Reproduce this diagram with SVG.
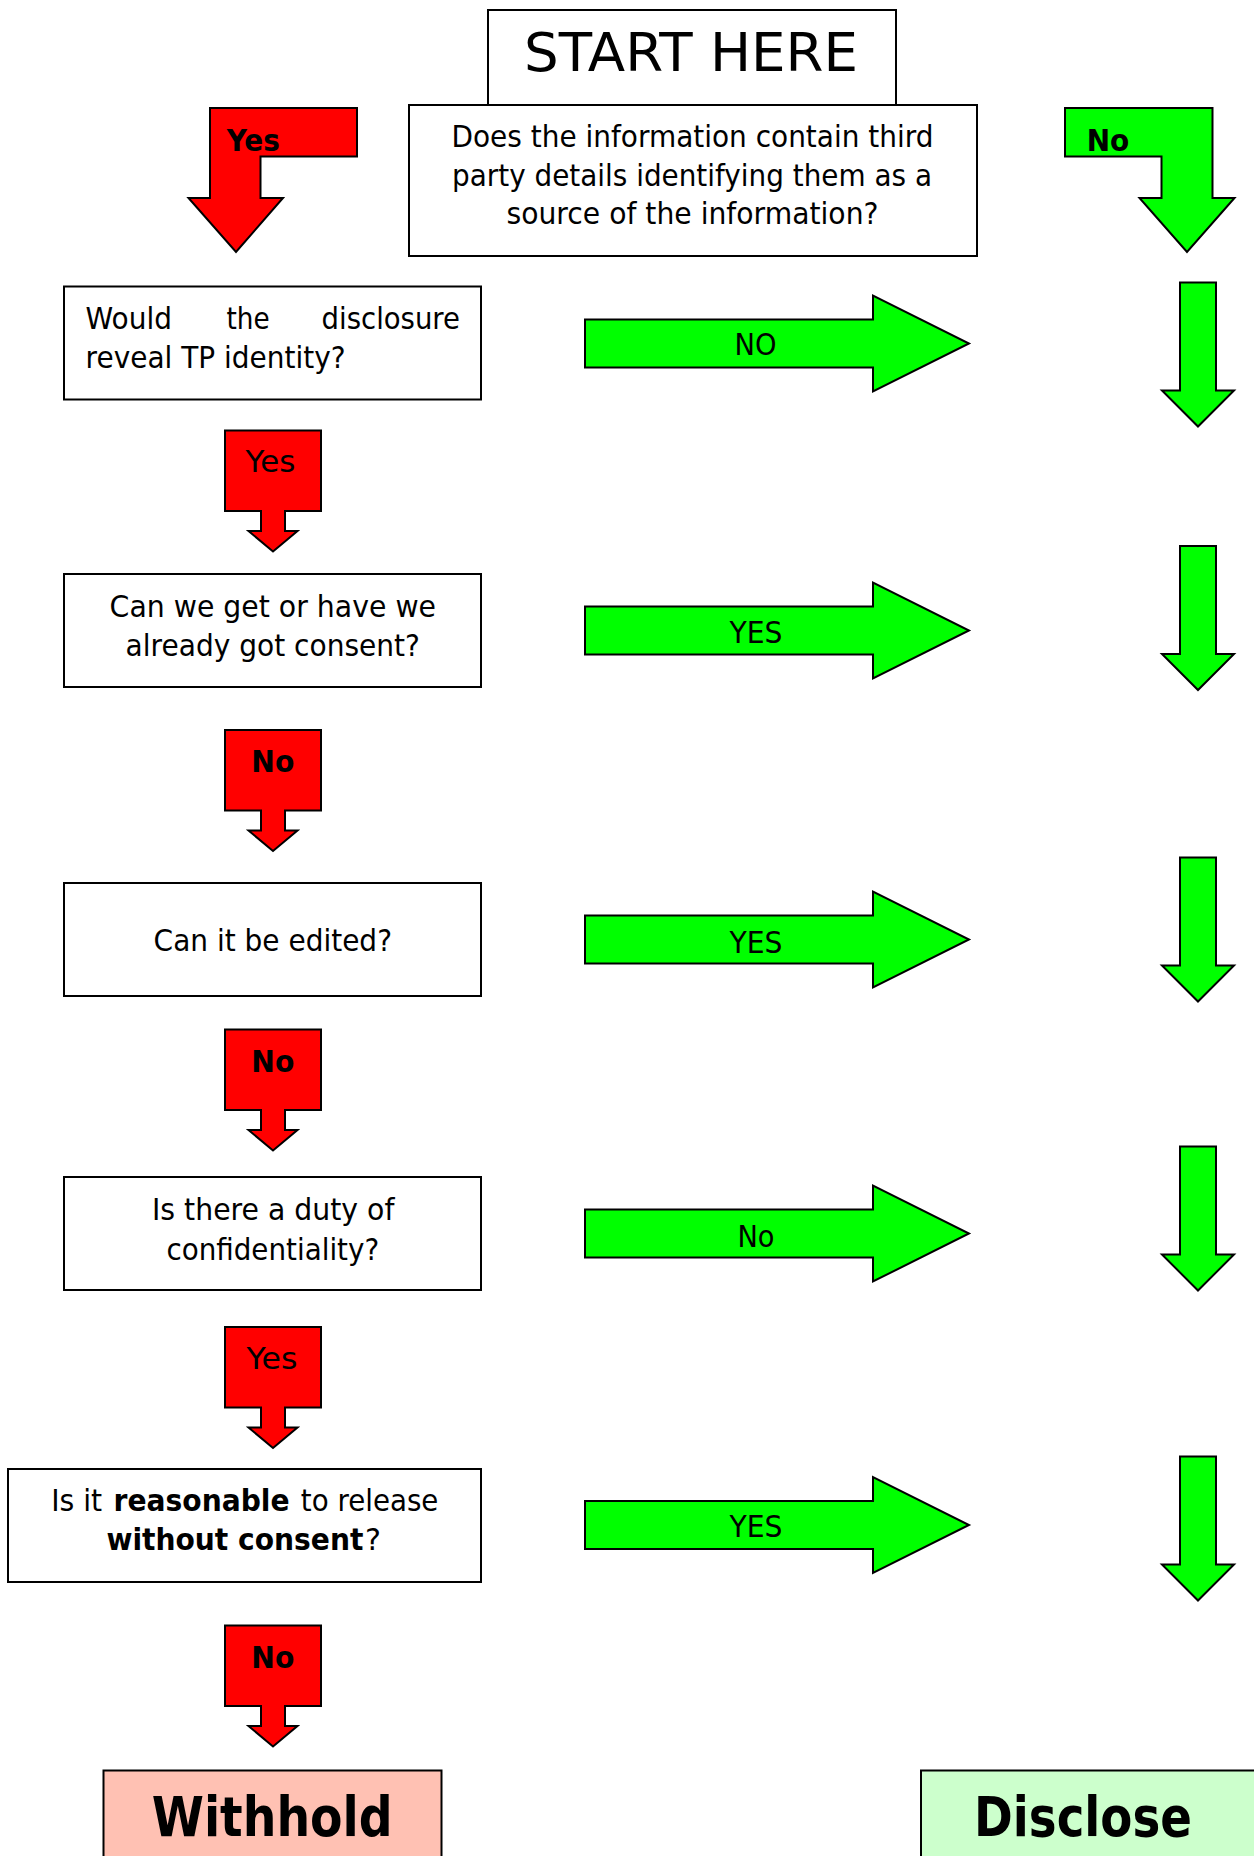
<svg xmlns="http://www.w3.org/2000/svg" width="1254" height="1856" viewBox="0 0 1254 1856">
<style>
.box{fill:#fff;stroke:#000;stroke-width:2}
.g{fill:#00ff00;stroke:#000;stroke-width:2;stroke-linejoin:miter}
.r{fill:#ff0000;stroke:#000;stroke-width:2;stroke-linejoin:miter}
.t{font-family:"DejaVu Sans",Verdana,sans-serif;font-size:30px;fill:#000}
.c{text-anchor:middle}
.b{font-weight:bold}
</style>
<rect width="1254" height="1856" fill="#fff"/>
<g id="question">
<rect class="box" x="409" y="105" width="568" height="151"/>
<text class="t c" x="692.5" y="147" textLength="482" lengthAdjust="spacingAndGlyphs">Does the information contain third</text>
<text class="t c" x="692" y="185.5" textLength="480" lengthAdjust="spacingAndGlyphs">party details identifying them as a</text>
<text class="t c" x="692.5" y="224" textLength="372" lengthAdjust="spacingAndGlyphs">source of the information?</text>
</g>
<g id="start">
<rect class="box" x="488" y="10" width="408" height="95"/>
<text class="t c" x="691" y="71" style="font-size:54px" textLength="334" lengthAdjust="spacingAndGlyphs">START HERE</text>
</g>
<g id="q1">
<rect class="box" x="64" y="286.5" width="417" height="113"/>
<text class="t" x="85.6" y="329" textLength="86.4" lengthAdjust="spacingAndGlyphs">Would</text>
<text class="t" x="226.4" y="329" textLength="43.2" lengthAdjust="spacingAndGlyphs">the</text>
<text class="t" x="321.6" y="329" textLength="138.4" lengthAdjust="spacingAndGlyphs">disclosure</text>
<text class="t" x="85.6" y="367.5" textLength="260" lengthAdjust="spacingAndGlyphs">reveal TP identity?</text>
</g>
<g id="q2">
<rect class="box" x="64" y="574" width="417" height="113"/>
<text class="t c" x="272.8" y="616.5" textLength="326.4" lengthAdjust="spacingAndGlyphs">Can we get or have we</text>
<text class="t c" x="272.8" y="655.5" textLength="294.4" lengthAdjust="spacingAndGlyphs">already got consent?</text>
</g>
<g id="q3">
<rect class="box" x="64" y="883" width="417" height="113"/>
<text class="t c" x="272.8" y="951" textLength="238.4" lengthAdjust="spacingAndGlyphs">Can it be edited?</text>
</g>
<g id="q4">
<rect class="box" x="64" y="1177" width="417" height="113"/>
<text class="t c" x="273.2" y="1220" textLength="242.4" lengthAdjust="spacingAndGlyphs">Is there a duty of</text>
<text class="t c" x="272.8" y="1259.5" textLength="212.8" lengthAdjust="spacingAndGlyphs">confidentiality?</text>
</g>
<g id="q5">
<rect class="box" x="8" y="1469" width="473" height="113"/>
<text class="t" x="51.2" y="1511" textLength="51" lengthAdjust="spacingAndGlyphs">Is it</text>
<text class="t b" x="113.6" y="1511" textLength="176" lengthAdjust="spacingAndGlyphs">reasonable</text>
<text class="t" x="300.8" y="1511" textLength="137.6" lengthAdjust="spacingAndGlyphs">to release</text>
<text class="t b" x="106.4" y="1550" textLength="257" lengthAdjust="spacingAndGlyphs">without consent</text>
<text class="t" x="365" y="1550" textLength="16" lengthAdjust="spacingAndGlyphs">?</text>
</g>
<g id="withhold">
<rect x="103.5" y="1770.5" width="338" height="100" fill="#ffc1b3" stroke="#000" stroke-width="2"/>
<text class="t b" x="151.7" y="1836" style="font-size:55px" textLength="241" lengthAdjust="spacingAndGlyphs">Withhold</text>
</g>
<g id="disclose">
<rect x="921" y="1770.5" width="360" height="100" fill="#ccffcc" stroke="#000" stroke-width="2"/>
<text class="t b" x="974" y="1836" style="font-size:55px" textLength="218" lengthAdjust="spacingAndGlyphs">Disclose</text>
</g>
<g id="connectors">
<path class="r" d="M210,108 H357 V156.5 H260.5 V198 H283 L236,252 L188.5,198 H210 Z"/>
<text class="t b" x="226.7" y="151" textLength="53.3" lengthAdjust="spacingAndGlyphs">Yes</text>
<path class="g" d="M1065,108 H1212.5 V198 H1234.5 L1187,252 L1139.5,198 H1161.5 V156.5 H1065 Z"/>
<text class="t b" x="1086.7" y="151" textLength="42.6" lengthAdjust="spacingAndGlyphs">No</text>

<path class="g" d="M585,319.5 H873 V295.5 L969,343.5 L873,391.5 V367.5 H585 Z"/>
<text class="t c" x="755.5" y="355" textLength="42" lengthAdjust="spacingAndGlyphs">NO</text>
<path class="g" d="M585,606.5 H873 V582.5 L969,630.5 L873,678.5 V654.5 H585 Z"/>
<text class="t c" x="756" y="642.5" textLength="53" lengthAdjust="spacingAndGlyphs">YES</text>
<path class="g" d="M585,915.5 H873 V891.5 L969,939.5 L873,987.5 V963.5 H585 Z"/>
<text class="t c" x="756" y="952.5" textLength="53" lengthAdjust="spacingAndGlyphs">YES</text>
<path class="g" d="M585,1209.5 H873 V1185.5 L969,1233.5 L873,1281.5 V1257.5 H585 Z"/>
<text class="t c" x="756" y="1247" textLength="37" lengthAdjust="spacingAndGlyphs">No</text>
<path class="g" d="M585,1501 H873 V1477 L969,1525 L873,1573 V1549 H585 Z"/>
<text class="t c" x="756" y="1537" textLength="53" lengthAdjust="spacingAndGlyphs">YES</text>

<path class="g" d="M1180,282.5 H1216 V390.5 H1234 L1198,426.5 L1162,390.5 H1180 Z"/>
<path class="g" d="M1180,546 H1216 V654 H1234 L1198,690 L1162,654 H1180 Z"/>
<path class="g" d="M1180,857.5 H1216 V965.5 H1234 L1198,1001.5 L1162,965.5 H1180 Z"/>
<path class="g" d="M1180,1146.5 H1216 V1254.5 H1234 L1198,1290.5 L1162,1254.5 H1180 Z"/>
<path class="g" d="M1180,1456.5 H1216 V1564.5 H1234 L1198,1600.5 L1162,1564.5 H1180 Z"/>

<path class="r" d="M225,430.5 H321 V511 H285 V531 H297.5 L273,551.5 L248.5,531 H261 V511 H225 Z"/>
<text class="t c" x="270.5" y="472" textLength="50" lengthAdjust="spacingAndGlyphs">Yes</text>
<path class="r" d="M225,730 H321 V810.5 H285 V830.5 H297.5 L273,851 L248.5,830.5 H261 V810.5 H225 Z"/>
<text class="t c b" x="272.8" y="772" textLength="43" lengthAdjust="spacingAndGlyphs">No</text>
<path class="r" d="M225,1029.5 H321 V1110 H285 V1130 H297.5 L273,1150.5 L248.5,1130 H261 V1110 H225 Z"/>
<text class="t c b" x="272.8" y="1072" textLength="43" lengthAdjust="spacingAndGlyphs">No</text>
<path class="r" d="M225,1327 H321 V1407.5 H285 V1427.5 H297.5 L273,1448 L248.5,1427.5 H261 V1407.5 H225 Z"/>
<text class="t c" x="272" y="1368.5" textLength="51" lengthAdjust="spacingAndGlyphs">Yes</text>
<path class="r" d="M225,1625.5 H321 V1706 H285 V1726 H297.5 L273,1746.5 L248.5,1726 H261 V1706 H225 Z"/>
<text class="t c b" x="272.8" y="1667.5" textLength="43" lengthAdjust="spacingAndGlyphs">No</text>
</g>
</svg>
